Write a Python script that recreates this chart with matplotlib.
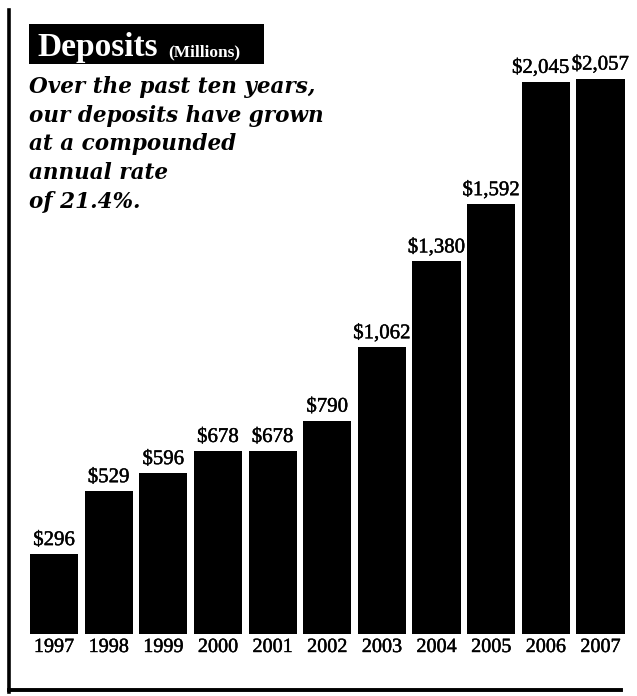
import matplotlib
matplotlib.use("Agg")
import matplotlib.pyplot as plt
import matplotlib.patheffects as pe
from matplotlib.patches import Rectangle
from matplotlib.lines import Line2D

# Year-end deposits, millions of dollars
years = ["1997", "1998", "1999", "2000", "2001", "2002",
         "2003", "2004", "2005", "2006", "2007"]
deposits = [296, 529, 596, 678, 678, 790, 1062, 1380, 1592, 2045, 2057]
value_labels = ["$296", "$529", "$596", "$678", "$678", "$790",
                "$1,062", "$1,380", "$1,592", "$2,045", "$2,057"]

title = "Deposits"
unit = "(Millions)"
blurb = ["Over the past ten years,",
         "our deposits have grown",
         "at a compounded",
         "annual rate",
         "of 21.4%."]

W, H = 637, 696
fig = plt.figure(figsize=(W / 100, H / 100), dpi=100)
fig.patch.set_facecolor("white")


def fx(x):
    return x / W


def fy(y):
    return 1 - y / H


SERIF = ["Liberation Serif", "DejaVu Serif"]
medium = [pe.withStroke(linewidth=0.3, foreground="black")]

# Plot area: baseline at 634 px, 0.27 px per million
ymax = 2300
base_px = 634
scale = 0.27
ax_left, ax_right = 26.7, 627.8
ax = fig.add_axes([fx(ax_left), fy(base_px), (ax_right - ax_left) / W,
                   ymax * scale / H])
ax.set_xlim(-0.5, len(years) - 0.5)
ax.set_ylim(0, ymax)
ax.axis("off")

x = list(range(len(years)))
ax.bar(x, deposits, width=0.88, color="black", edgecolor="none")

for i, (v, lab) in enumerate(zip(deposits, value_labels)):
    # the 2006 label leans left so it clears its neighbour
    dx = -5 if i == len(years) - 2 else 0
    ax.annotate(lab, xy=(i, v), xytext=(dx, 4), textcoords="offset pixels",
                ha="center", va="bottom", fontsize=15, family=SERIF,
                color="black", path_effects=medium)
    ax.annotate(years[i], xy=(i, 0), xytext=(0, -4), textcoords="offset pixels",
                ha="center", va="top", fontsize=14.5, family=SERIF,
                color="black", path_effects=medium)

# Title block
fig.patches.append(Rectangle((fx(29), fy(64)), fx(264) - fx(29), fy(24) - fy(64),
                             transform=fig.transFigure, facecolor="black",
                             edgecolor="none"))
fig.text(fx(37), fy(56), title, color="white", fontsize=24,
         fontweight="bold", family=SERIF, ha="left", va="baseline")
fig.text(fx(168), fy(56), unit, color="white", fontsize=12.5,
         fontweight="bold", family=SERIF, ha="left", va="baseline")

# Italic description
for k, line in enumerate(blurb):
    fig.text(fx(29), fy(93 + 28.7 * k), line, color="black", fontsize=15.5,
             fontstyle="italic", fontweight="bold",
             family=["DejaVu Serif"], ha="left", va="baseline")

# Frame rules on the left and bottom
fig.add_artist(Line2D([fx(9), fx(9)], [fy(10), fy(692)], color="black",
                      lw=2.6, transform=fig.transFigure))
fig.add_artist(Line2D([fx(9), fx(621)], [fy(690), fy(690)], color="black",
                      lw=2.8, transform=fig.transFigure))

fig.savefig("out.png", dpi=100, facecolor="white")
